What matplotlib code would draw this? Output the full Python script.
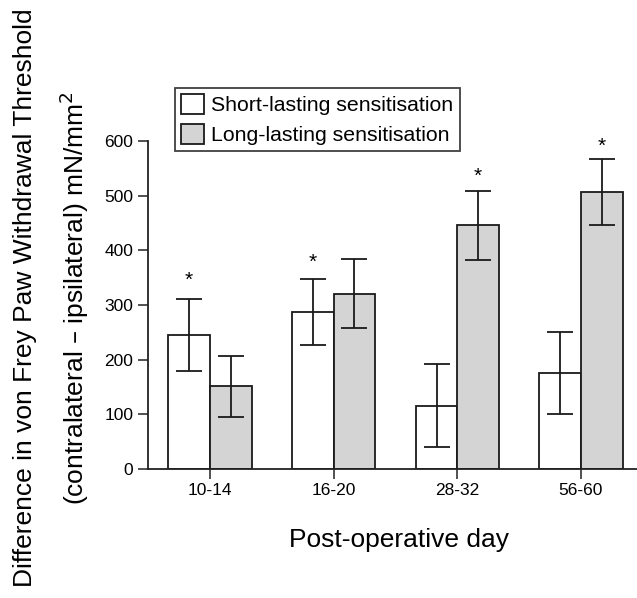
import matplotlib
matplotlib.use("Agg")
import matplotlib.pyplot as plt
import numpy as np

plt.rcParams['font.family'] = ['Liberation Sans', 'DejaVu Sans']

# Data
categories = ["10-14", "16-20", "28-32", "56-60"]
short_mean = [245, 287, 116, 175]
short_err = [66, 60, 76, 75]
long_mean = [151, 321, 446, 507]
long_err = [55, 63, 63, 60]
# asterisk positions (value units)
star_short = [345, 378, None, None]
star_long = [None, None, 535, 590]
series_labels = ["Short-lasting sensitisation", "Long-lasting sensitisation"]
y_ticks = [0, 100, 200, 300, 400, 500, 600]

W, H = 637, 598
fig = plt.figure(figsize=(W / 100, H / 100), dpi=100)
ax_left, ax_right = 148 / W, 637 / W
ax_bottom, ax_top = 1 - 469 / H, 1 - 141 / H
ax = fig.add_axes([ax_left, ax_bottom, ax_right - ax_left, ax_top - ax_bottom])

x = np.arange(len(categories))
bw = 0.336
lw = 1.3
edge = '#1a1a1a'
gray = '#d4d4d4'

b1 = ax.bar(x - bw / 2, short_mean, bw, color='white', edgecolor=edge, linewidth=lw,
            label=series_labels[0], zorder=2)
b2 = ax.bar(x + bw / 2, long_mean, bw, color=gray, edgecolor=edge, linewidth=lw,
            label=series_labels[1], zorder=2)
ax.errorbar(x - bw / 2, short_mean, yerr=short_err, fmt='none', ecolor=edge,
            elinewidth=lw, capsize=9.5, capthick=lw, zorder=3)
ax.errorbar(x + bw / 2, long_mean, yerr=long_err, fmt='none', ecolor=edge,
            elinewidth=lw, capsize=9.5, capthick=lw, zorder=3)

for i in range(len(categories)):
    if star_short[i] is not None:
        ax.text(x[i] - bw / 2, star_short[i], '*', ha='center', va='center',
                fontsize=15, clip_on=False)
    if star_long[i] is not None:
        ax.text(x[i] + bw / 2, star_long[i], '*', ha='center', va='center',
                fontsize=15, clip_on=False)

ax.set_xlim(-0.501, 3.453)
ax.set_ylim(0, 600)
ax.set_yticks(y_ticks)
ax.set_xticks(x)
ax.set_xticklabels(categories)
ax.spines['top'].set_visible(False)
ax.spines['right'].set_visible(False)
ax.spines['left'].set_bounds(0, 600)
for s in ['left', 'bottom']:
    ax.spines[s].set_linewidth(1.3)
    ax.spines[s].set_color('#222222')
ax.tick_params(axis='both', length=7, width=1.1, color='#222222', labelsize=12.5)
ax.tick_params(axis='y', pad=3.5)
ax.tick_params(axis='x', pad=3)

fig.text(399 / W, 1 - 547 / H, "Post-operative day", ha='center', va='baseline',
         fontsize=19)
fig.text(25 / W, 1 - 298 / H, "Difference in von Frey Paw Withdrawal Threshold",
         rotation=90, ha='center', va='center', fontsize=19)
fig.text(74 / W, 1 - 298 / H, "(contralateral \u2013 ipsilateral) mN/mm$^2$",
         rotation=90, ha='center', va='center', fontsize=19)

leg = ax.legend(handles=[b1, b2], loc='upper left',
                bbox_to_anchor=(175 / W, 1 - 88 / H), bbox_transform=fig.transFigure,
                borderaxespad=0, fontsize=15.3, frameon=True, fancybox=False,
                handlelength=1.05, handleheight=1.05, handletextpad=0.35,
                labelspacing=0.4, borderpad=0.3)
leg.get_frame().set_edgecolor('#111111')
leg.get_frame().set_linewidth(1.3)

fig.savefig("out.png", dpi=100)
